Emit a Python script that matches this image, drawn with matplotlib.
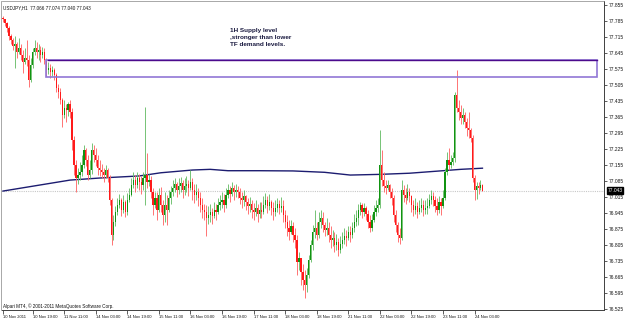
import matplotlib
matplotlib.use("Agg")
import matplotlib.pyplot as plt
import matplotlib.transforms as mtransforms
from matplotlib.patches import Rectangle
import numpy as np
import pandas as pd

# ---------------- data ----------------
header_text = "USDJPY,H1  77.066 77.074 77.040 77.043"
copyright_text = "Alpari MT4, \u00a9 2001-2011 MetaQuotes Software Corp."
note_text = "1H Supply level\n,stronger than lower\nTF demand levels."

first_bar_time = "2011-11-10 04:00"
first_open = 77.800

close = [
    77.794, 77.776, 77.755, 77.720, 77.702, 77.676, 77.685, 77.650, 77.667, 77.636,
    77.606, 77.623, 77.615, 77.527, 77.593, 77.650, 77.667, 77.650, 77.658, 77.636,
    77.650, 77.615, 77.571, 77.580, 77.562, 77.571, 77.549, 77.492, 77.475, 77.440,
    77.374, 77.405, 77.396, 77.422, 77.387, 77.265, 77.155, 77.098, 77.111, 77.125,
    77.155, 77.221, 77.177, 77.111, 77.133, 77.221, 77.199, 77.177, 77.142, 77.133,
    77.125, 77.111, 77.133, 77.098, 77.002, 76.849, 76.906, 76.950, 76.980, 77.002,
    76.958, 76.993, 76.950, 77.002, 77.024, 77.068, 77.090, 77.068, 77.098, 77.081,
    77.068, 77.098, 77.111, 77.081, 77.090, 77.037, 76.980, 77.011, 76.958, 77.024,
    76.980, 76.936, 76.980, 76.958, 77.011, 77.037, 77.055, 77.072, 77.046, 77.063,
    77.076, 77.046, 77.063, 77.072, 77.055, 77.081, 77.046, 77.024, 77.037, 77.011,
    76.980, 76.958, 76.950, 76.923, 76.936, 76.950, 76.932, 76.958, 76.950, 76.980,
    76.993, 77.002, 76.980, 77.024, 77.046, 77.028, 77.055, 77.037, 77.046, 77.037,
    77.011, 77.002, 77.020, 76.993, 76.976, 76.985, 76.958, 76.950, 76.967, 76.941,
    76.958, 76.950, 76.980, 77.002, 76.976, 76.993, 76.967, 76.950, 76.967, 76.985,
    76.967, 76.976, 76.936, 76.906, 76.880, 76.862, 76.888, 76.849, 76.827, 76.731,
    76.748, 76.687, 76.652, 76.630, 76.674, 76.740, 76.805, 76.862, 76.880, 76.849,
    76.906, 76.923, 76.893, 76.871, 76.880, 76.849, 76.827, 76.836, 76.805, 76.818,
    76.783, 76.810, 76.827, 76.845, 76.836, 76.862, 76.849, 76.880, 76.906, 76.923,
    76.958, 76.980, 76.950, 76.967, 76.941, 76.906, 76.880, 76.915, 76.950, 76.967,
    76.980, 77.155, 77.090, 77.063, 77.055, 77.068, 77.037, 77.011, 76.936, 76.893,
    76.849, 76.836, 77.046, 77.024, 77.011, 77.037, 77.020, 76.980, 76.958, 76.976,
    76.950, 76.967, 76.980, 76.958, 76.967, 76.976, 77.002, 77.020, 77.002, 76.976,
    76.958, 76.993, 76.976, 77.011, 77.125, 77.177, 77.155, 77.168, 77.186, 77.461,
    77.405, 77.387, 77.361, 77.374, 77.343, 77.317, 77.308, 77.273, 77.098, 77.046,
    77.063, 77.055, 77.066, 77.043,
]

high = [
    77.807, 77.794, 77.781, 77.763, 77.728, 77.711, 77.720, 77.693, 77.711, 77.685,
    77.658, 77.667, 77.702, 77.636, 77.623, 77.667, 77.702, 77.693, 77.685, 77.676,
    77.671, 77.667, 77.623, 77.606, 77.597, 77.588, 77.580, 77.558, 77.510, 77.492,
    77.448, 77.440, 77.422, 77.431, 77.440, 77.405, 77.282, 77.177, 77.142, 77.168,
    77.199, 77.243, 77.230, 77.199, 77.177, 77.251, 77.243, 77.230, 77.199, 77.177,
    77.160, 77.142, 77.155, 77.142, 77.111, 77.011, 76.936, 76.976, 77.011, 77.028,
    77.011, 77.024, 77.002, 77.033, 77.055, 77.098, 77.125, 77.111, 77.125, 77.116,
    77.107, 77.125, 77.409, 77.208, 77.116, 77.107, 77.055, 77.037, 77.037, 77.055,
    77.059, 77.002, 77.037, 77.024, 77.046, 77.063, 77.090, 77.098, 77.081, 77.098,
    77.103, 77.090, 77.098, 77.107, 77.090, 77.133, 77.098, 77.072, 77.072, 77.055,
    77.037, 77.011, 76.985, 76.980, 76.976, 76.985, 76.967, 76.993, 76.985, 77.011,
    77.024, 77.037, 77.028, 77.055, 77.072, 77.063, 77.081, 77.068, 77.072, 77.063,
    77.055, 77.037, 77.046, 77.024, 77.011, 77.015, 77.002, 76.989, 77.002, 76.985,
    76.993, 76.993, 77.020, 77.033, 77.020, 77.028, 77.002, 76.993, 77.002, 77.011,
    77.002, 77.015, 77.002, 76.958, 76.936, 76.915, 76.915, 76.906, 76.880, 76.849,
    76.775, 76.748, 76.722, 76.696, 76.705, 76.761, 76.827, 76.893, 76.958, 76.906,
    76.950, 76.958, 76.950, 76.906, 76.923, 76.906, 76.888, 76.871, 76.862, 76.853,
    76.836, 76.845, 76.862, 76.880, 76.871, 76.888, 76.888, 76.906, 76.941, 76.958,
    76.985, 76.993, 76.989, 76.989, 76.976, 76.958, 76.936, 76.941, 76.980, 77.002,
    77.011, 77.308, 77.221, 77.125, 77.090, 77.090, 77.072, 77.055, 77.024, 76.958,
    76.906, 76.880, 77.090, 77.068, 77.055, 77.072, 77.055, 77.024, 77.002, 77.011,
    76.993, 77.002, 77.011, 77.002, 77.002, 77.011, 77.028, 77.046, 77.037, 77.020,
    77.011, 77.020, 77.011, 77.046, 77.142, 77.212, 77.230, 77.199, 77.212, 77.475,
    77.571, 77.440, 77.418, 77.405, 77.387, 77.361, 77.387, 77.317, 77.286, 77.111,
    77.081, 77.081, 77.090, 77.074,
]

low = [
    77.781, 77.763, 77.737, 77.702, 77.685, 77.658, 77.580, 77.623, 77.641, 77.615,
    77.558, 77.597, 77.588, 77.496, 77.518, 77.580, 77.636, 77.623, 77.615, 77.606,
    77.623, 77.597, 77.545, 77.553, 77.536, 77.545, 77.527, 77.475, 77.448, 77.422,
    77.321, 77.361, 77.343, 77.370, 77.361, 77.221, 77.111, 77.037, 77.072, 77.090,
    77.107, 77.142, 77.151, 77.090, 77.098, 77.116, 77.168, 77.151, 77.111, 77.107,
    77.098, 77.081, 77.098, 77.081, 76.980, 76.805, 76.827, 76.888, 76.936, 76.967,
    76.932, 76.945, 76.928, 76.936, 76.993, 77.020, 77.055, 77.037, 77.055, 77.046,
    77.028, 77.046, 76.980, 77.055, 77.063, 77.011, 76.936, 76.967, 76.915, 76.950,
    76.950, 76.893, 76.906, 76.893, 76.950, 76.985, 77.020, 77.037, 77.015, 77.028,
    77.037, 77.011, 77.024, 77.037, 77.020, 77.046, 77.002, 76.989, 77.002, 76.976,
    76.950, 76.923, 76.915, 76.845, 76.897, 76.906, 76.897, 76.923, 76.915, 76.941,
    76.958, 76.967, 76.950, 76.967, 77.011, 76.993, 77.020, 77.002, 77.015, 77.011,
    76.985, 76.967, 76.976, 76.958, 76.941, 76.950, 76.923, 76.915, 76.932, 76.906,
    76.923, 76.923, 76.941, 76.967, 76.945, 76.958, 76.936, 76.915, 76.932, 76.950,
    76.941, 76.950, 76.906, 76.880, 76.845, 76.827, 76.853, 76.818, 76.792, 76.674,
    76.696, 76.630, 76.608, 76.573, 76.600, 76.661, 76.731, 76.783, 76.836, 76.827,
    76.836, 76.880, 76.862, 76.845, 76.849, 76.818, 76.792, 76.801, 76.775, 76.783,
    76.757, 76.770, 76.792, 76.810, 76.801, 76.827, 76.818, 76.836, 76.862, 76.888,
    76.893, 76.936, 76.923, 76.932, 76.915, 76.880, 76.862, 76.866, 76.906, 76.932,
    76.950, 76.967, 77.063, 77.037, 77.028, 77.046, 77.011, 76.980, 76.906, 76.862,
    76.818, 76.810, 76.827, 76.993, 76.985, 77.002, 76.993, 76.950, 76.932, 76.941,
    76.923, 76.941, 76.950, 76.932, 76.941, 76.941, 76.967, 76.985, 76.976, 76.950,
    76.936, 76.945, 76.936, 76.967, 77.002, 77.111, 77.133, 77.142, 77.155, 77.168,
    77.387, 77.352, 77.335, 77.335, 77.317, 77.282, 77.273, 77.256, 77.081, 77.002,
    77.006, 77.028, 77.046, 77.040,
]

# moving average (sampled along the line), bar index -> value
ma_bar = [0, 34, 49, 69, 80, 96, 105, 114, 130, 147, 163, 176, 191, 206, 223, 232, 243]
ma_value = [77.041, 77.089, 77.098, 77.107, 77.121, 77.133, 77.136, 77.130, 77.130,
            77.129, 77.123, 77.111, 77.114, 77.119, 77.130, 77.136, 77.141]

bid_price = 77.043

zone_top = 77.613
zone_bottom = 77.541
zone_start_bar = 21.8
zone_end_bar = 300.9

note_bar = 115
note_price = 77.755

y_ticks = [77.855, 77.785, 77.715, 77.645, 77.575, 77.505, 77.435, 77.365, 77.295,
           77.225, 77.155, 77.085, 77.015, 76.945, 76.875, 76.805, 76.735, 76.665,
           76.595, 76.525]

x_tick_times = ["2011-11-10 04:00", "2011-11-10 19:00", "2011-11-11 11:00",
                "2011-11-14 03:00", "2011-11-14 19:00", "2011-11-15 11:00",
                "2011-11-16 03:00", "2011-11-16 19:00", "2011-11-17 11:00",
                "2011-11-18 03:00", "2011-11-18 19:00", "2011-11-21 11:00",
                "2011-11-22 03:00", "2011-11-22 19:00", "2011-11-23 11:00",
                "2011-11-24 03:00"]
x_tick_labels = ["10 Nov 2011", "10 Nov 19:00", "11 Nov 11:00", "14 Nov 03:00",
                 "14 Nov 19:00", "15 Nov 11:00", "16 Nov 03:00", "16 Nov 19:00",
                 "17 Nov 11:00", "18 Nov 03:00", "18 Nov 19:00", "21 Nov 11:00",
                 "22 Nov 03:00", "22 Nov 19:00", "23 Nov 11:00", "24 Nov 03:00"]

# ---------------- build ----------------
c = np.array(close)
o = np.concatenate([[first_open], c[:-1]])
h = np.maximum(np.array(high), np.maximum(o, c))
l = np.minimum(np.array(low), np.minimum(o, c))
n = len(c)

times = pd.date_range(first_bar_time, "2011-11-26", freq="h")
times = times[times.weekday < 5][:n]
time_index = {t: i for i, t in enumerate(times)}
tick_pos = [time_index[pd.Timestamp(t)] for t in x_tick_times]

small_font = ["Liberation Sans", "DejaVu Sans"]

fig = plt.figure(figsize=(6.25, 3.19), dpi=100)
fig.patch.set_facecolor("white")
ax = fig.add_axes([1.5 / 625, 9 / 319, 602.5 / 625, 309 / 319])
ax.set_facecolor("white")
ax.set_xlim(-0.76, 304.6)
ax.set_ylim(76.5206, 77.8725)

# bid line
ax.axhline(bid_price, color="#c8c8c8", lw=0.8, ls=(0, (1, 1)), zorder=1)

# moving average
ax.plot(ma_bar, ma_value, color="#1c1c70", lw=1.0, zorder=2)

# candles
x = np.arange(n)
up = c >= o
wick_up, wick_dn = "#6cbf6c", "#ff6a6a"
body_up, body_dn = "#119311", "#ff1a1a"
ax.vlines(x[up], l[up], h[up], color=wick_up, lw=0.65, zorder=3)
ax.vlines(x[~up], l[~up], h[~up], color=wick_dn, lw=0.65, zorder=3)
bb = np.minimum(o, c)
bh = np.maximum(np.abs(c - o), 0.003)
ax.bar(x[up], bh[up], bottom=bb[up], width=0.62, color=body_up, lw=0, zorder=4)
ax.bar(x[~up], bh[~up], bottom=bb[~up], width=0.62, color=body_dn, lw=0, zorder=4)

# supply zone rectangle
ax.add_patch(Rectangle((zone_start_bar, zone_bottom), zone_end_bar - zone_start_bar,
                       zone_top - zone_bottom, fill=False, ec="#9177d6", lw=1.2, zorder=5))
ax.plot([zone_start_bar + 1, zone_end_bar], [zone_top, zone_top], color="#4b0a8c",
        lw=1.0, zorder=6)

# note
ax.text(note_bar, note_price, note_text, va="top", ha="left", fontsize=4.6,
        fontweight="bold", color="#1a1a40", linespacing=1.55,
        family=["Liberation Sans", "DejaVu Sans"], zorder=7)

# spines
for s in ["left", "top"]:
    ax.spines[s].set_color("#9a9a9a")
    ax.spines[s].set_linewidth(0.6)
ax.spines["top"].set_linestyle((0, (2, 1)))
for s in ["right", "bottom"]:
    ax.spines[s].set_color("#404040")
    ax.spines[s].set_linewidth(0.7)

# y axis on the right
ax.yaxis.tick_right()
ax.set_yticks(y_ticks)
ax.set_yticklabels([f"{v:.3f}" for v in y_ticks], family=small_font)
ax.tick_params(axis="y", direction="out", length=2.5, width=0.6, pad=1.2,
               labelsize=3.5, colors="#404040", labelcolor="#111111")

# x axis
ax.set_xticks(tick_pos)
ax.set_xticklabels(x_tick_labels, ha="left", family=small_font)
ax.tick_params(axis="x", direction="out", length=3, width=0.6, pad=0.8,
               labelsize=3.0, colors="#404040", labelcolor="#111111")

# current price tag
trans = mtransforms.blended_transform_factory(ax.transAxes, ax.transData)
ax.text(1.0055, bid_price, f"{bid_price:.3f}", transform=trans, va="center", ha="left",
        fontsize=3.5, color="white", family=small_font, clip_on=False,
        bbox=dict(boxstyle="square,pad=0.15", fc="black", ec="black"))

# header and copyright
fig.text(3 / 625, 1 - 8 / 319, header_text, va="center", ha="left", fontsize=3.3,
         color="#111111", family=small_font)
fig.text(3 / 625, 1 - 306 / 319, copyright_text, va="center", ha="left", fontsize=3.3,
         color="#111111", family=small_font)

fig.savefig("out.png", dpi=100, facecolor="white")
